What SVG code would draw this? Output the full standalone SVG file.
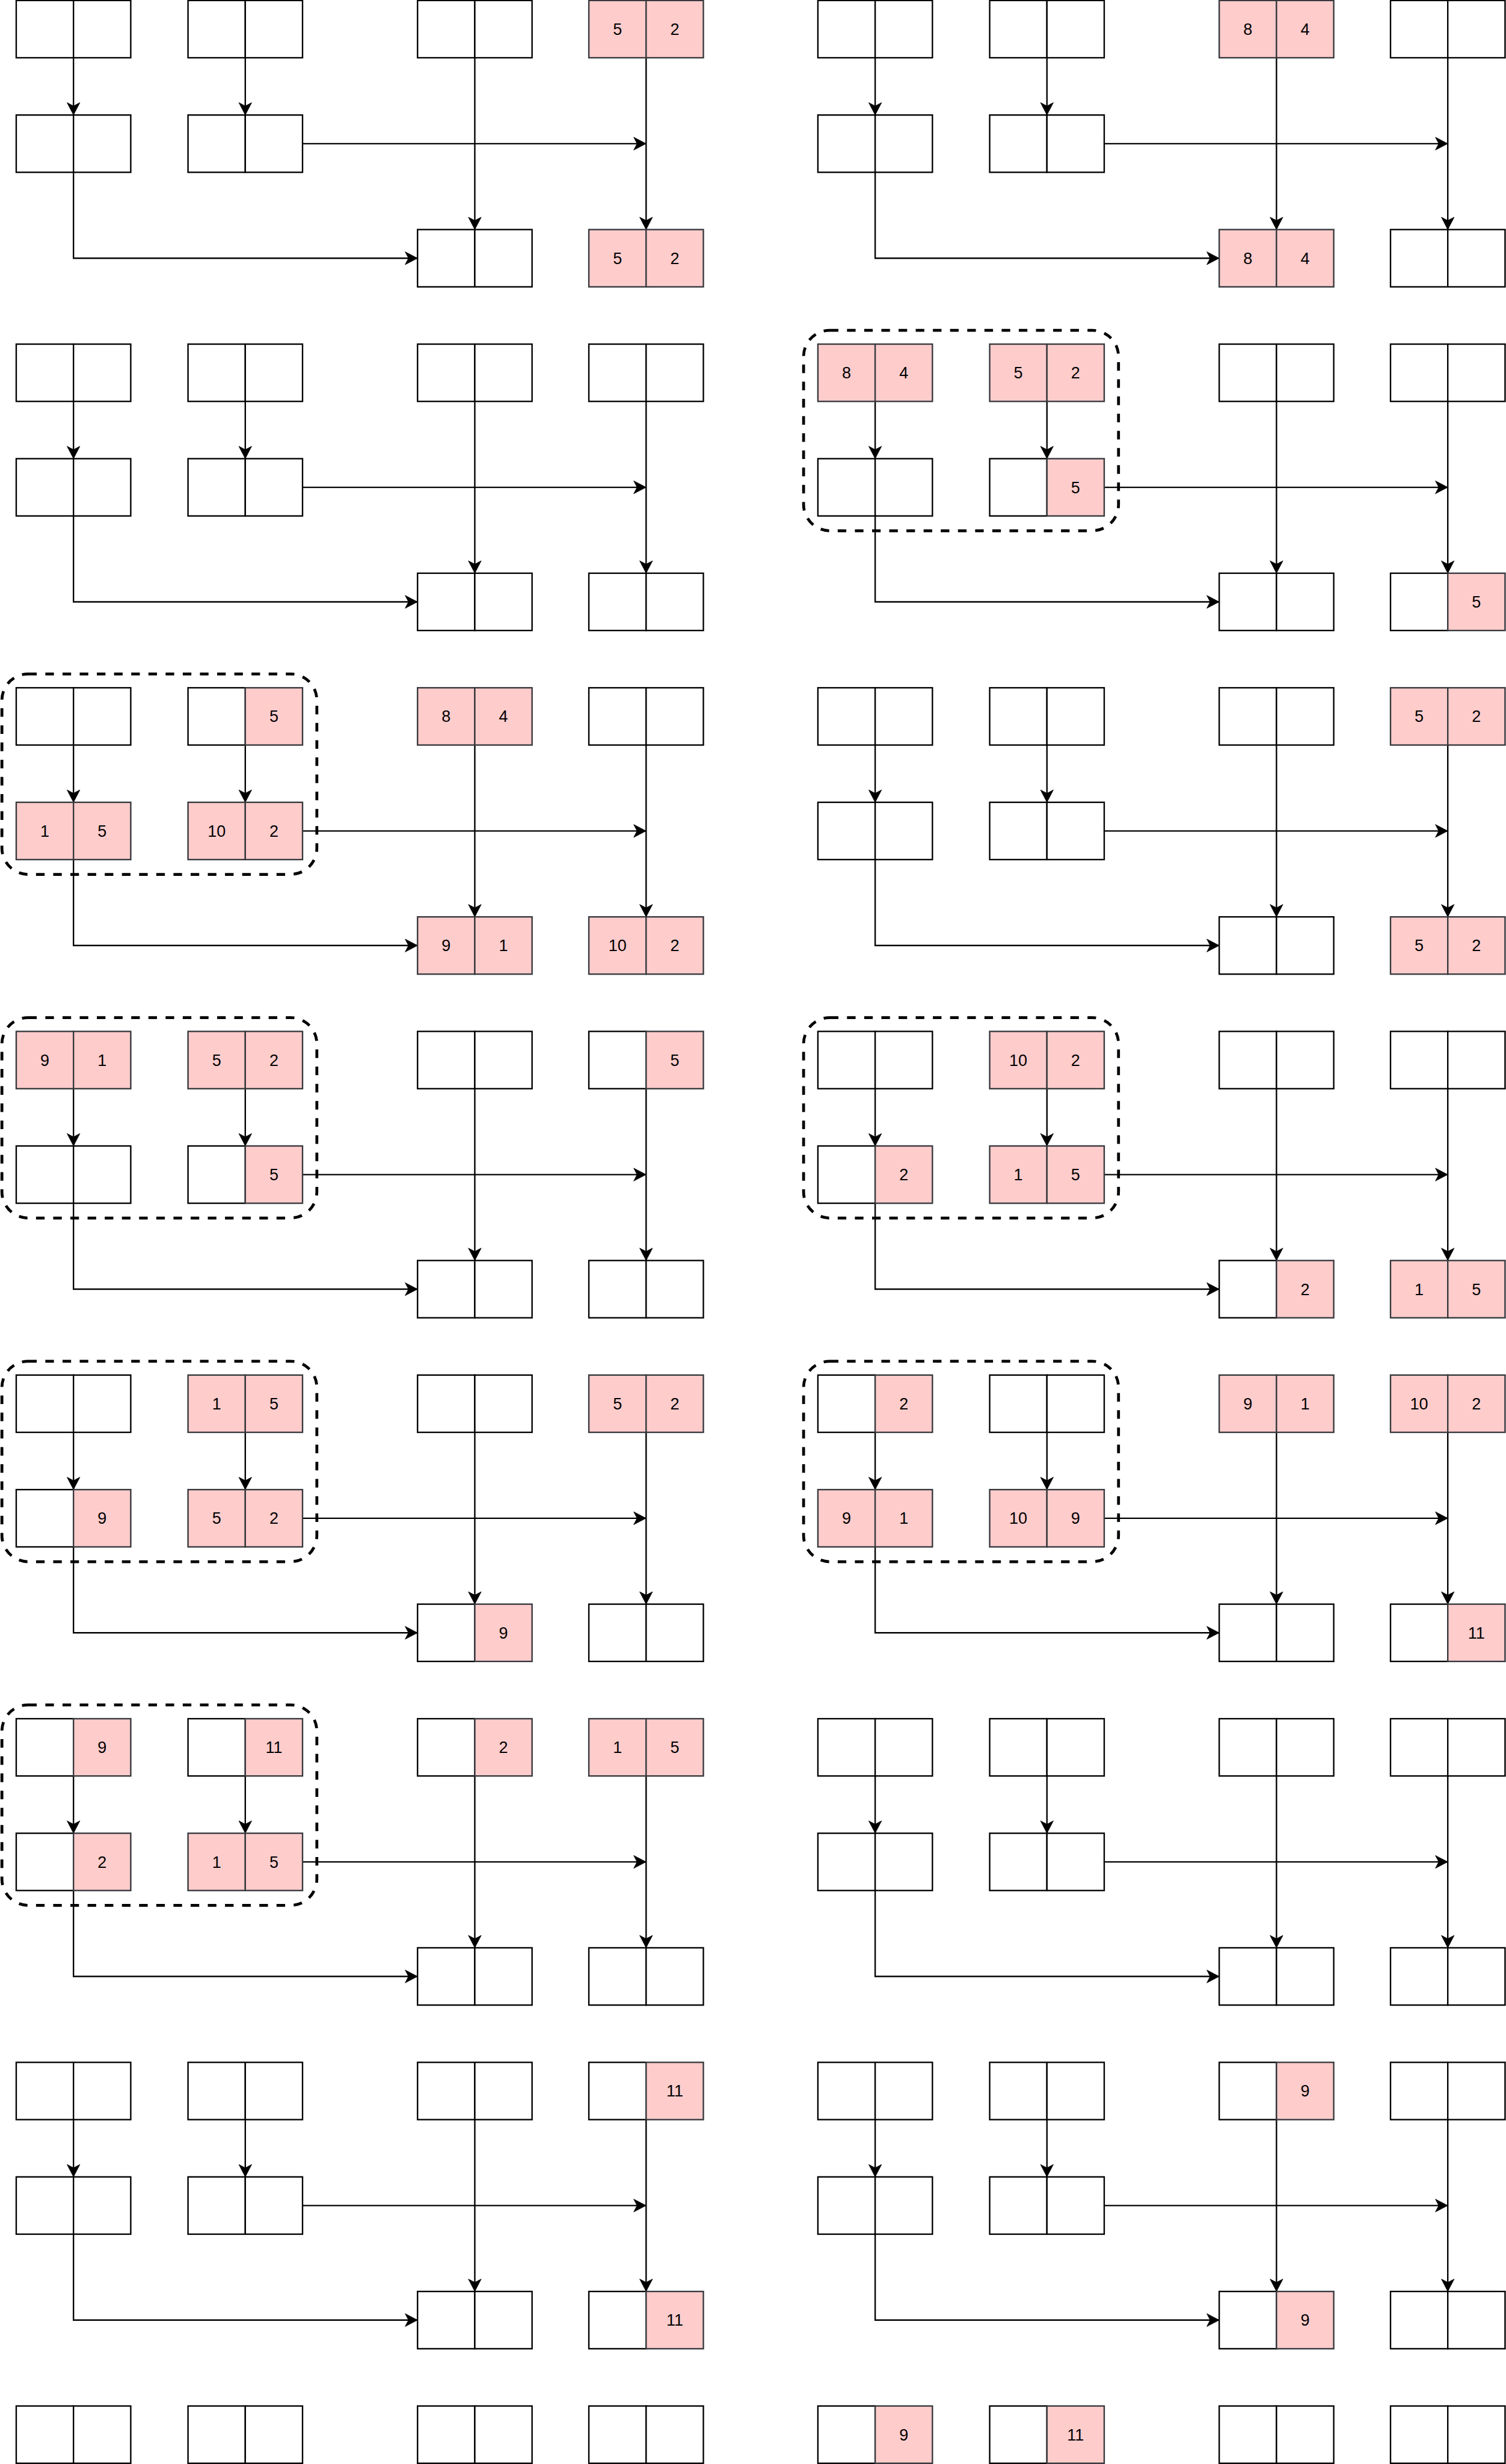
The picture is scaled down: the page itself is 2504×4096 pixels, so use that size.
<svg xmlns="http://www.w3.org/2000/svg" width="2504" height="4096" viewBox="0 0 2504 4096">
<style>
.w{fill:#ffffff;stroke:#000000;stroke-width:3}
.p{fill:#ffcccc;stroke:#36393d;stroke-width:3}
.t{font-family:"Liberation Sans",Arial,sans-serif;font-size:34px;fill:#000000;text-anchor:middle}
.c{fill:none;stroke:#000000;stroke-width:3;marker-end:url(#arr)}
.g{fill:none;stroke:#000000;stroke-width:6;stroke-dasharray:18 18}
</style>
<defs>
<marker id="arr" markerUnits="userSpaceOnUse" viewBox="-30 -16 32 32" refX="0" refY="0" markerWidth="32" markerHeight="32" orient="auto">
<path d="M0,0 L-26,-13.5 L-19,0 L-26,13.5 Z" fill="#000000" stroke="#000000" stroke-width="1"/>
</marker>
</defs>
<rect x="0" y="0" width="2504" height="4096" fill="#ffffff"/>
<g transform="scale(0.793409)">
<g id="groups">
<rect class="g" x="1684" y="692" width="660" height="420" rx="55"/>
<rect class="g" x="4" y="1412" width="660" height="420" rx="55"/>
<rect class="g" x="4" y="2132" width="660" height="420" rx="55"/>
<rect class="g" x="1684" y="2132" width="660" height="420" rx="55"/>
<rect class="g" x="4" y="2852" width="660" height="420" rx="55"/>
<rect class="g" x="1684" y="2852" width="660" height="420" rx="55"/>
<rect class="g" x="4" y="3572" width="660" height="420" rx="55"/>
</g>
<g id="connectors">
<path class="c" d="M154,121V241"/><path class="c" d="M514,121V241"/><path class="c" d="M995,121V481"/><path class="c" d="M1354,121V481"/><path class="c" d="M634,301H1354"/><path class="c" d="M154,361V541H875"/>
<path class="c" d="M1834,121V241"/><path class="c" d="M2194,121V241"/><path class="c" d="M2675,121V481"/><path class="c" d="M3034,121V481"/><path class="c" d="M2314,301H3034"/><path class="c" d="M1834,361V541H2555"/>
<path class="c" d="M154,841V961"/><path class="c" d="M514,841V961"/><path class="c" d="M995,841V1201"/><path class="c" d="M1354,841V1201"/><path class="c" d="M634,1021H1354"/><path class="c" d="M154,1081V1261H875"/>
<path class="c" d="M1834,841V961"/><path class="c" d="M2194,841V961"/><path class="c" d="M2675,841V1201"/><path class="c" d="M3034,841V1201"/><path class="c" d="M2314,1021H3034"/><path class="c" d="M1834,1081V1261H2555"/>
<path class="c" d="M154,1561V1681"/><path class="c" d="M514,1561V1681"/><path class="c" d="M995,1561V1921"/><path class="c" d="M1354,1561V1921"/><path class="c" d="M634,1741H1354"/><path class="c" d="M154,1801V1981H875"/>
<path class="c" d="M1834,1561V1681"/><path class="c" d="M2194,1561V1681"/><path class="c" d="M2675,1561V1921"/><path class="c" d="M3034,1561V1921"/><path class="c" d="M2314,1741H3034"/><path class="c" d="M1834,1801V1981H2555"/>
<path class="c" d="M154,2281V2401"/><path class="c" d="M514,2281V2401"/><path class="c" d="M995,2281V2641"/><path class="c" d="M1354,2281V2641"/><path class="c" d="M634,2461H1354"/><path class="c" d="M154,2521V2701H875"/>
<path class="c" d="M1834,2281V2401"/><path class="c" d="M2194,2281V2401"/><path class="c" d="M2675,2281V2641"/><path class="c" d="M3034,2281V2641"/><path class="c" d="M2314,2461H3034"/><path class="c" d="M1834,2521V2701H2555"/>
<path class="c" d="M154,3001V3121"/><path class="c" d="M514,3001V3121"/><path class="c" d="M995,3001V3361"/><path class="c" d="M1354,3001V3361"/><path class="c" d="M634,3181H1354"/><path class="c" d="M154,3241V3421H875"/>
<path class="c" d="M1834,3001V3121"/><path class="c" d="M2194,3001V3121"/><path class="c" d="M2675,3001V3361"/><path class="c" d="M3034,3001V3361"/><path class="c" d="M2314,3181H3034"/><path class="c" d="M1834,3241V3421H2555"/>
<path class="c" d="M154,3721V3841"/><path class="c" d="M514,3721V3841"/><path class="c" d="M995,3721V4081"/><path class="c" d="M1354,3721V4081"/><path class="c" d="M634,3901H1354"/><path class="c" d="M154,3961V4141H875"/>
<path class="c" d="M1834,3721V3841"/><path class="c" d="M2194,3721V3841"/><path class="c" d="M2675,3721V4081"/><path class="c" d="M3034,3721V4081"/><path class="c" d="M2314,3901H3034"/><path class="c" d="M1834,3961V4141H2555"/>
<path class="c" d="M154,4441V4561"/><path class="c" d="M514,4441V4561"/><path class="c" d="M995,4441V4801"/><path class="c" d="M1354,4441V4801"/><path class="c" d="M634,4621H1354"/><path class="c" d="M154,4681V4861H875"/>
<path class="c" d="M1834,4441V4561"/><path class="c" d="M2194,4441V4561"/><path class="c" d="M2675,4441V4801"/><path class="c" d="M3034,4441V4801"/><path class="c" d="M2314,4621H3034"/><path class="c" d="M1834,4681V4861H2555"/>
</g>
<g id="nodes">
<!-- Panel 0 left -->
<g id="p0L-a1" transform="translate(34,1)"><rect class="w" width="120" height="120"/><rect class="w" x="120" width="120" height="120"/></g>
<g id="p0L-b1" transform="translate(394,1)"><rect class="w" width="120" height="120"/><rect class="w" x="120" width="120" height="120"/></g>
<g id="p0L-c1" transform="translate(875,1)"><rect class="w" width="120" height="120"/><rect class="w" x="120" width="120" height="120"/></g>
<g id="p0L-d1" transform="translate(1234,1)"><rect class="p" width="120" height="120"/><rect class="p" x="120" width="120" height="120"/><text class="t" x="60" y="72">5</text><text class="t" x="180" y="72">2</text></g>
<g id="p0L-a2" transform="translate(34,241)"><rect class="w" width="120" height="120"/><rect class="w" x="120" width="120" height="120"/></g>
<g id="p0L-b2" transform="translate(394,241)"><rect class="w" width="120" height="120"/><rect class="w" x="120" width="120" height="120"/></g>
<g id="p0L-c3" transform="translate(875,481)"><rect class="w" width="120" height="120"/><rect class="w" x="120" width="120" height="120"/></g>
<g id="p0L-d3" transform="translate(1234,481)"><rect class="p" width="120" height="120"/><rect class="p" x="120" width="120" height="120"/><text class="t" x="60" y="72">5</text><text class="t" x="180" y="72">2</text></g>
<!-- Panel 0 right -->
<g id="p0R-a1" transform="translate(1714,1)"><rect class="w" width="120" height="120"/><rect class="w" x="120" width="120" height="120"/></g>
<g id="p0R-b1" transform="translate(2074,1)"><rect class="w" width="120" height="120"/><rect class="w" x="120" width="120" height="120"/></g>
<g id="p0R-c1" transform="translate(2555,1)"><rect class="p" width="120" height="120"/><rect class="p" x="120" width="120" height="120"/><text class="t" x="60" y="72">8</text><text class="t" x="180" y="72">4</text></g>
<g id="p0R-d1" transform="translate(2914,1)"><rect class="w" width="120" height="120"/><rect class="w" x="120" width="120" height="120"/></g>
<g id="p0R-a2" transform="translate(1714,241)"><rect class="w" width="120" height="120"/><rect class="w" x="120" width="120" height="120"/></g>
<g id="p0R-b2" transform="translate(2074,241)"><rect class="w" width="120" height="120"/><rect class="w" x="120" width="120" height="120"/></g>
<g id="p0R-c3" transform="translate(2555,481)"><rect class="p" width="120" height="120"/><rect class="p" x="120" width="120" height="120"/><text class="t" x="60" y="72">8</text><text class="t" x="180" y="72">4</text></g>
<g id="p0R-d3" transform="translate(2914,481)"><rect class="w" width="120" height="120"/><rect class="w" x="120" width="120" height="120"/></g>
<!-- Panel 1 left -->
<g id="p1L-a1" transform="translate(34,721)"><rect class="w" width="120" height="120"/><rect class="w" x="120" width="120" height="120"/></g>
<g id="p1L-b1" transform="translate(394,721)"><rect class="w" width="120" height="120"/><rect class="w" x="120" width="120" height="120"/></g>
<g id="p1L-c1" transform="translate(875,721)"><rect class="w" width="120" height="120"/><rect class="w" x="120" width="120" height="120"/></g>
<g id="p1L-d1" transform="translate(1234,721)"><rect class="w" width="120" height="120"/><rect class="w" x="120" width="120" height="120"/></g>
<g id="p1L-a2" transform="translate(34,961)"><rect class="w" width="120" height="120"/><rect class="w" x="120" width="120" height="120"/></g>
<g id="p1L-b2" transform="translate(394,961)"><rect class="w" width="120" height="120"/><rect class="w" x="120" width="120" height="120"/></g>
<g id="p1L-c3" transform="translate(875,1201)"><rect class="w" width="120" height="120"/><rect class="w" x="120" width="120" height="120"/></g>
<g id="p1L-d3" transform="translate(1234,1201)"><rect class="w" width="120" height="120"/><rect class="w" x="120" width="120" height="120"/></g>
<!-- Panel 1 right -->
<g id="p1R-a1" transform="translate(1714,721)"><rect class="p" width="120" height="120"/><rect class="p" x="120" width="120" height="120"/><text class="t" x="60" y="72">8</text><text class="t" x="180" y="72">4</text></g>
<g id="p1R-b1" transform="translate(2074,721)"><rect class="p" width="120" height="120"/><rect class="p" x="120" width="120" height="120"/><text class="t" x="60" y="72">5</text><text class="t" x="180" y="72">2</text></g>
<g id="p1R-c1" transform="translate(2555,721)"><rect class="w" width="120" height="120"/><rect class="w" x="120" width="120" height="120"/></g>
<g id="p1R-d1" transform="translate(2914,721)"><rect class="w" width="120" height="120"/><rect class="w" x="120" width="120" height="120"/></g>
<g id="p1R-a2" transform="translate(1714,961)"><rect class="w" width="120" height="120"/><rect class="w" x="120" width="120" height="120"/></g>
<g id="p1R-b2" transform="translate(2074,961)"><rect class="w" width="120" height="120"/><rect class="p" x="120" width="120" height="120"/><text class="t" x="180" y="72">5</text></g>
<g id="p1R-c3" transform="translate(2555,1201)"><rect class="w" width="120" height="120"/><rect class="w" x="120" width="120" height="120"/></g>
<g id="p1R-d3" transform="translate(2914,1201)"><rect class="w" width="120" height="120"/><rect class="p" x="120" width="120" height="120"/><text class="t" x="180" y="72">5</text></g>
<!-- Panel 2 left -->
<g id="p2L-a1" transform="translate(34,1441)"><rect class="w" width="120" height="120"/><rect class="w" x="120" width="120" height="120"/></g>
<g id="p2L-b1" transform="translate(394,1441)"><rect class="w" width="120" height="120"/><rect class="p" x="120" width="120" height="120"/><text class="t" x="180" y="72">5</text></g>
<g id="p2L-c1" transform="translate(875,1441)"><rect class="p" width="120" height="120"/><rect class="p" x="120" width="120" height="120"/><text class="t" x="60" y="72">8</text><text class="t" x="180" y="72">4</text></g>
<g id="p2L-d1" transform="translate(1234,1441)"><rect class="w" width="120" height="120"/><rect class="w" x="120" width="120" height="120"/></g>
<g id="p2L-a2" transform="translate(34,1681)"><rect class="p" width="120" height="120"/><rect class="p" x="120" width="120" height="120"/><text class="t" x="60" y="72">1</text><text class="t" x="180" y="72">5</text></g>
<g id="p2L-b2" transform="translate(394,1681)"><rect class="p" width="120" height="120"/><rect class="p" x="120" width="120" height="120"/><text class="t" x="60" y="72">10</text><text class="t" x="180" y="72">2</text></g>
<g id="p2L-c3" transform="translate(875,1921)"><rect class="p" width="120" height="120"/><rect class="p" x="120" width="120" height="120"/><text class="t" x="60" y="72">9</text><text class="t" x="180" y="72">1</text></g>
<g id="p2L-d3" transform="translate(1234,1921)"><rect class="p" width="120" height="120"/><rect class="p" x="120" width="120" height="120"/><text class="t" x="60" y="72">10</text><text class="t" x="180" y="72">2</text></g>
<!-- Panel 2 right -->
<g id="p2R-a1" transform="translate(1714,1441)"><rect class="w" width="120" height="120"/><rect class="w" x="120" width="120" height="120"/></g>
<g id="p2R-b1" transform="translate(2074,1441)"><rect class="w" width="120" height="120"/><rect class="w" x="120" width="120" height="120"/></g>
<g id="p2R-c1" transform="translate(2555,1441)"><rect class="w" width="120" height="120"/><rect class="w" x="120" width="120" height="120"/></g>
<g id="p2R-d1" transform="translate(2914,1441)"><rect class="p" width="120" height="120"/><rect class="p" x="120" width="120" height="120"/><text class="t" x="60" y="72">5</text><text class="t" x="180" y="72">2</text></g>
<g id="p2R-a2" transform="translate(1714,1681)"><rect class="w" width="120" height="120"/><rect class="w" x="120" width="120" height="120"/></g>
<g id="p2R-b2" transform="translate(2074,1681)"><rect class="w" width="120" height="120"/><rect class="w" x="120" width="120" height="120"/></g>
<g id="p2R-c3" transform="translate(2555,1921)"><rect class="w" width="120" height="120"/><rect class="w" x="120" width="120" height="120"/></g>
<g id="p2R-d3" transform="translate(2914,1921)"><rect class="p" width="120" height="120"/><rect class="p" x="120" width="120" height="120"/><text class="t" x="60" y="72">5</text><text class="t" x="180" y="72">2</text></g>
<!-- Panel 3 left -->
<g id="p3L-a1" transform="translate(34,2161)"><rect class="p" width="120" height="120"/><rect class="p" x="120" width="120" height="120"/><text class="t" x="60" y="72">9</text><text class="t" x="180" y="72">1</text></g>
<g id="p3L-b1" transform="translate(394,2161)"><rect class="p" width="120" height="120"/><rect class="p" x="120" width="120" height="120"/><text class="t" x="60" y="72">5</text><text class="t" x="180" y="72">2</text></g>
<g id="p3L-c1" transform="translate(875,2161)"><rect class="w" width="120" height="120"/><rect class="w" x="120" width="120" height="120"/></g>
<g id="p3L-d1" transform="translate(1234,2161)"><rect class="w" width="120" height="120"/><rect class="p" x="120" width="120" height="120"/><text class="t" x="180" y="72">5</text></g>
<g id="p3L-a2" transform="translate(34,2401)"><rect class="w" width="120" height="120"/><rect class="w" x="120" width="120" height="120"/></g>
<g id="p3L-b2" transform="translate(394,2401)"><rect class="w" width="120" height="120"/><rect class="p" x="120" width="120" height="120"/><text class="t" x="180" y="72">5</text></g>
<g id="p3L-c3" transform="translate(875,2641)"><rect class="w" width="120" height="120"/><rect class="w" x="120" width="120" height="120"/></g>
<g id="p3L-d3" transform="translate(1234,2641)"><rect class="w" width="120" height="120"/><rect class="w" x="120" width="120" height="120"/></g>
<!-- Panel 3 right -->
<g id="p3R-a1" transform="translate(1714,2161)"><rect class="w" width="120" height="120"/><rect class="w" x="120" width="120" height="120"/></g>
<g id="p3R-b1" transform="translate(2074,2161)"><rect class="p" width="120" height="120"/><rect class="p" x="120" width="120" height="120"/><text class="t" x="60" y="72">10</text><text class="t" x="180" y="72">2</text></g>
<g id="p3R-c1" transform="translate(2555,2161)"><rect class="w" width="120" height="120"/><rect class="w" x="120" width="120" height="120"/></g>
<g id="p3R-d1" transform="translate(2914,2161)"><rect class="w" width="120" height="120"/><rect class="w" x="120" width="120" height="120"/></g>
<g id="p3R-a2" transform="translate(1714,2401)"><rect class="w" width="120" height="120"/><rect class="p" x="120" width="120" height="120"/><text class="t" x="180" y="72">2</text></g>
<g id="p3R-b2" transform="translate(2074,2401)"><rect class="p" width="120" height="120"/><rect class="p" x="120" width="120" height="120"/><text class="t" x="60" y="72">1</text><text class="t" x="180" y="72">5</text></g>
<g id="p3R-c3" transform="translate(2555,2641)"><rect class="w" width="120" height="120"/><rect class="p" x="120" width="120" height="120"/><text class="t" x="180" y="72">2</text></g>
<g id="p3R-d3" transform="translate(2914,2641)"><rect class="p" width="120" height="120"/><rect class="p" x="120" width="120" height="120"/><text class="t" x="60" y="72">1</text><text class="t" x="180" y="72">5</text></g>
<!-- Panel 4 left -->
<g id="p4L-a1" transform="translate(34,2881)"><rect class="w" width="120" height="120"/><rect class="w" x="120" width="120" height="120"/></g>
<g id="p4L-b1" transform="translate(394,2881)"><rect class="p" width="120" height="120"/><rect class="p" x="120" width="120" height="120"/><text class="t" x="60" y="72">1</text><text class="t" x="180" y="72">5</text></g>
<g id="p4L-c1" transform="translate(875,2881)"><rect class="w" width="120" height="120"/><rect class="w" x="120" width="120" height="120"/></g>
<g id="p4L-d1" transform="translate(1234,2881)"><rect class="p" width="120" height="120"/><rect class="p" x="120" width="120" height="120"/><text class="t" x="60" y="72">5</text><text class="t" x="180" y="72">2</text></g>
<g id="p4L-a2" transform="translate(34,3121)"><rect class="w" width="120" height="120"/><rect class="p" x="120" width="120" height="120"/><text class="t" x="180" y="72">9</text></g>
<g id="p4L-b2" transform="translate(394,3121)"><rect class="p" width="120" height="120"/><rect class="p" x="120" width="120" height="120"/><text class="t" x="60" y="72">5</text><text class="t" x="180" y="72">2</text></g>
<g id="p4L-c3" transform="translate(875,3361)"><rect class="w" width="120" height="120"/><rect class="p" x="120" width="120" height="120"/><text class="t" x="180" y="72">9</text></g>
<g id="p4L-d3" transform="translate(1234,3361)"><rect class="w" width="120" height="120"/><rect class="w" x="120" width="120" height="120"/></g>
<!-- Panel 4 right -->
<g id="p4R-a1" transform="translate(1714,2881)"><rect class="w" width="120" height="120"/><rect class="p" x="120" width="120" height="120"/><text class="t" x="180" y="72">2</text></g>
<g id="p4R-b1" transform="translate(2074,2881)"><rect class="w" width="120" height="120"/><rect class="w" x="120" width="120" height="120"/></g>
<g id="p4R-c1" transform="translate(2555,2881)"><rect class="p" width="120" height="120"/><rect class="p" x="120" width="120" height="120"/><text class="t" x="60" y="72">9</text><text class="t" x="180" y="72">1</text></g>
<g id="p4R-d1" transform="translate(2914,2881)"><rect class="p" width="120" height="120"/><rect class="p" x="120" width="120" height="120"/><text class="t" x="60" y="72">10</text><text class="t" x="180" y="72">2</text></g>
<g id="p4R-a2" transform="translate(1714,3121)"><rect class="p" width="120" height="120"/><rect class="p" x="120" width="120" height="120"/><text class="t" x="60" y="72">9</text><text class="t" x="180" y="72">1</text></g>
<g id="p4R-b2" transform="translate(2074,3121)"><rect class="p" width="120" height="120"/><rect class="p" x="120" width="120" height="120"/><text class="t" x="60" y="72">10</text><text class="t" x="180" y="72">9</text></g>
<g id="p4R-c3" transform="translate(2555,3361)"><rect class="w" width="120" height="120"/><rect class="w" x="120" width="120" height="120"/></g>
<g id="p4R-d3" transform="translate(2914,3361)"><rect class="w" width="120" height="120"/><rect class="p" x="120" width="120" height="120"/><text class="t" x="180" y="72">11</text></g>
<!-- Panel 5 left -->
<g id="p5L-a1" transform="translate(34,3601)"><rect class="w" width="120" height="120"/><rect class="p" x="120" width="120" height="120"/><text class="t" x="180" y="72">9</text></g>
<g id="p5L-b1" transform="translate(394,3601)"><rect class="w" width="120" height="120"/><rect class="p" x="120" width="120" height="120"/><text class="t" x="180" y="72">11</text></g>
<g id="p5L-c1" transform="translate(875,3601)"><rect class="w" width="120" height="120"/><rect class="p" x="120" width="120" height="120"/><text class="t" x="180" y="72">2</text></g>
<g id="p5L-d1" transform="translate(1234,3601)"><rect class="p" width="120" height="120"/><rect class="p" x="120" width="120" height="120"/><text class="t" x="60" y="72">1</text><text class="t" x="180" y="72">5</text></g>
<g id="p5L-a2" transform="translate(34,3841)"><rect class="w" width="120" height="120"/><rect class="p" x="120" width="120" height="120"/><text class="t" x="180" y="72">2</text></g>
<g id="p5L-b2" transform="translate(394,3841)"><rect class="p" width="120" height="120"/><rect class="p" x="120" width="120" height="120"/><text class="t" x="60" y="72">1</text><text class="t" x="180" y="72">5</text></g>
<g id="p5L-c3" transform="translate(875,4081)"><rect class="w" width="120" height="120"/><rect class="w" x="120" width="120" height="120"/></g>
<g id="p5L-d3" transform="translate(1234,4081)"><rect class="w" width="120" height="120"/><rect class="w" x="120" width="120" height="120"/></g>
<!-- Panel 5 right -->
<g id="p5R-a1" transform="translate(1714,3601)"><rect class="w" width="120" height="120"/><rect class="w" x="120" width="120" height="120"/></g>
<g id="p5R-b1" transform="translate(2074,3601)"><rect class="w" width="120" height="120"/><rect class="w" x="120" width="120" height="120"/></g>
<g id="p5R-c1" transform="translate(2555,3601)"><rect class="w" width="120" height="120"/><rect class="w" x="120" width="120" height="120"/></g>
<g id="p5R-d1" transform="translate(2914,3601)"><rect class="w" width="120" height="120"/><rect class="w" x="120" width="120" height="120"/></g>
<g id="p5R-a2" transform="translate(1714,3841)"><rect class="w" width="120" height="120"/><rect class="w" x="120" width="120" height="120"/></g>
<g id="p5R-b2" transform="translate(2074,3841)"><rect class="w" width="120" height="120"/><rect class="w" x="120" width="120" height="120"/></g>
<g id="p5R-c3" transform="translate(2555,4081)"><rect class="w" width="120" height="120"/><rect class="w" x="120" width="120" height="120"/></g>
<g id="p5R-d3" transform="translate(2914,4081)"><rect class="w" width="120" height="120"/><rect class="w" x="120" width="120" height="120"/></g>
<!-- Panel 6 left -->
<g id="p6L-a1" transform="translate(34,4321)"><rect class="w" width="120" height="120"/><rect class="w" x="120" width="120" height="120"/></g>
<g id="p6L-b1" transform="translate(394,4321)"><rect class="w" width="120" height="120"/><rect class="w" x="120" width="120" height="120"/></g>
<g id="p6L-c1" transform="translate(875,4321)"><rect class="w" width="120" height="120"/><rect class="w" x="120" width="120" height="120"/></g>
<g id="p6L-d1" transform="translate(1234,4321)"><rect class="w" width="120" height="120"/><rect class="p" x="120" width="120" height="120"/><text class="t" x="180" y="72">11</text></g>
<g id="p6L-a2" transform="translate(34,4561)"><rect class="w" width="120" height="120"/><rect class="w" x="120" width="120" height="120"/></g>
<g id="p6L-b2" transform="translate(394,4561)"><rect class="w" width="120" height="120"/><rect class="w" x="120" width="120" height="120"/></g>
<g id="p6L-c3" transform="translate(875,4801)"><rect class="w" width="120" height="120"/><rect class="w" x="120" width="120" height="120"/></g>
<g id="p6L-d3" transform="translate(1234,4801)"><rect class="w" width="120" height="120"/><rect class="p" x="120" width="120" height="120"/><text class="t" x="180" y="72">11</text></g>
<!-- Panel 6 right -->
<g id="p6R-a1" transform="translate(1714,4321)"><rect class="w" width="120" height="120"/><rect class="w" x="120" width="120" height="120"/></g>
<g id="p6R-b1" transform="translate(2074,4321)"><rect class="w" width="120" height="120"/><rect class="w" x="120" width="120" height="120"/></g>
<g id="p6R-c1" transform="translate(2555,4321)"><rect class="w" width="120" height="120"/><rect class="p" x="120" width="120" height="120"/><text class="t" x="180" y="72">9</text></g>
<g id="p6R-d1" transform="translate(2914,4321)"><rect class="w" width="120" height="120"/><rect class="w" x="120" width="120" height="120"/></g>
<g id="p6R-a2" transform="translate(1714,4561)"><rect class="w" width="120" height="120"/><rect class="w" x="120" width="120" height="120"/></g>
<g id="p6R-b2" transform="translate(2074,4561)"><rect class="w" width="120" height="120"/><rect class="w" x="120" width="120" height="120"/></g>
<g id="p6R-c3" transform="translate(2555,4801)"><rect class="w" width="120" height="120"/><rect class="p" x="120" width="120" height="120"/><text class="t" x="180" y="72">9</text></g>
<g id="p6R-d3" transform="translate(2914,4801)"><rect class="w" width="120" height="120"/><rect class="w" x="120" width="120" height="120"/></g>
<!-- Final row -->
<g id="p7L-a" transform="translate(34,5041)"><rect class="w" width="120" height="120"/><rect class="w" x="120" width="120" height="120"/></g>
<g id="p7L-b" transform="translate(394,5041)"><rect class="w" width="120" height="120"/><rect class="w" x="120" width="120" height="120"/></g>
<g id="p7L-c" transform="translate(875,5041)"><rect class="w" width="120" height="120"/><rect class="w" x="120" width="120" height="120"/></g>
<g id="p7L-d" transform="translate(1234,5041)"><rect class="w" width="120" height="120"/><rect class="w" x="120" width="120" height="120"/></g>
<g id="p7R-a" transform="translate(1714,5041)"><rect class="w" width="120" height="120"/><rect class="p" x="120" width="120" height="120"/><text class="t" x="180" y="72">9</text></g>
<g id="p7R-b" transform="translate(2074,5041)"><rect class="w" width="120" height="120"/><rect class="p" x="120" width="120" height="120"/><text class="t" x="180" y="72">11</text></g>
<g id="p7R-c" transform="translate(2555,5041)"><rect class="w" width="120" height="120"/><rect class="w" x="120" width="120" height="120"/></g>
<g id="p7R-d" transform="translate(2914,5041)"><rect class="w" width="120" height="120"/><rect class="w" x="120" width="120" height="120"/></g>
</g>
</g>
</svg>
